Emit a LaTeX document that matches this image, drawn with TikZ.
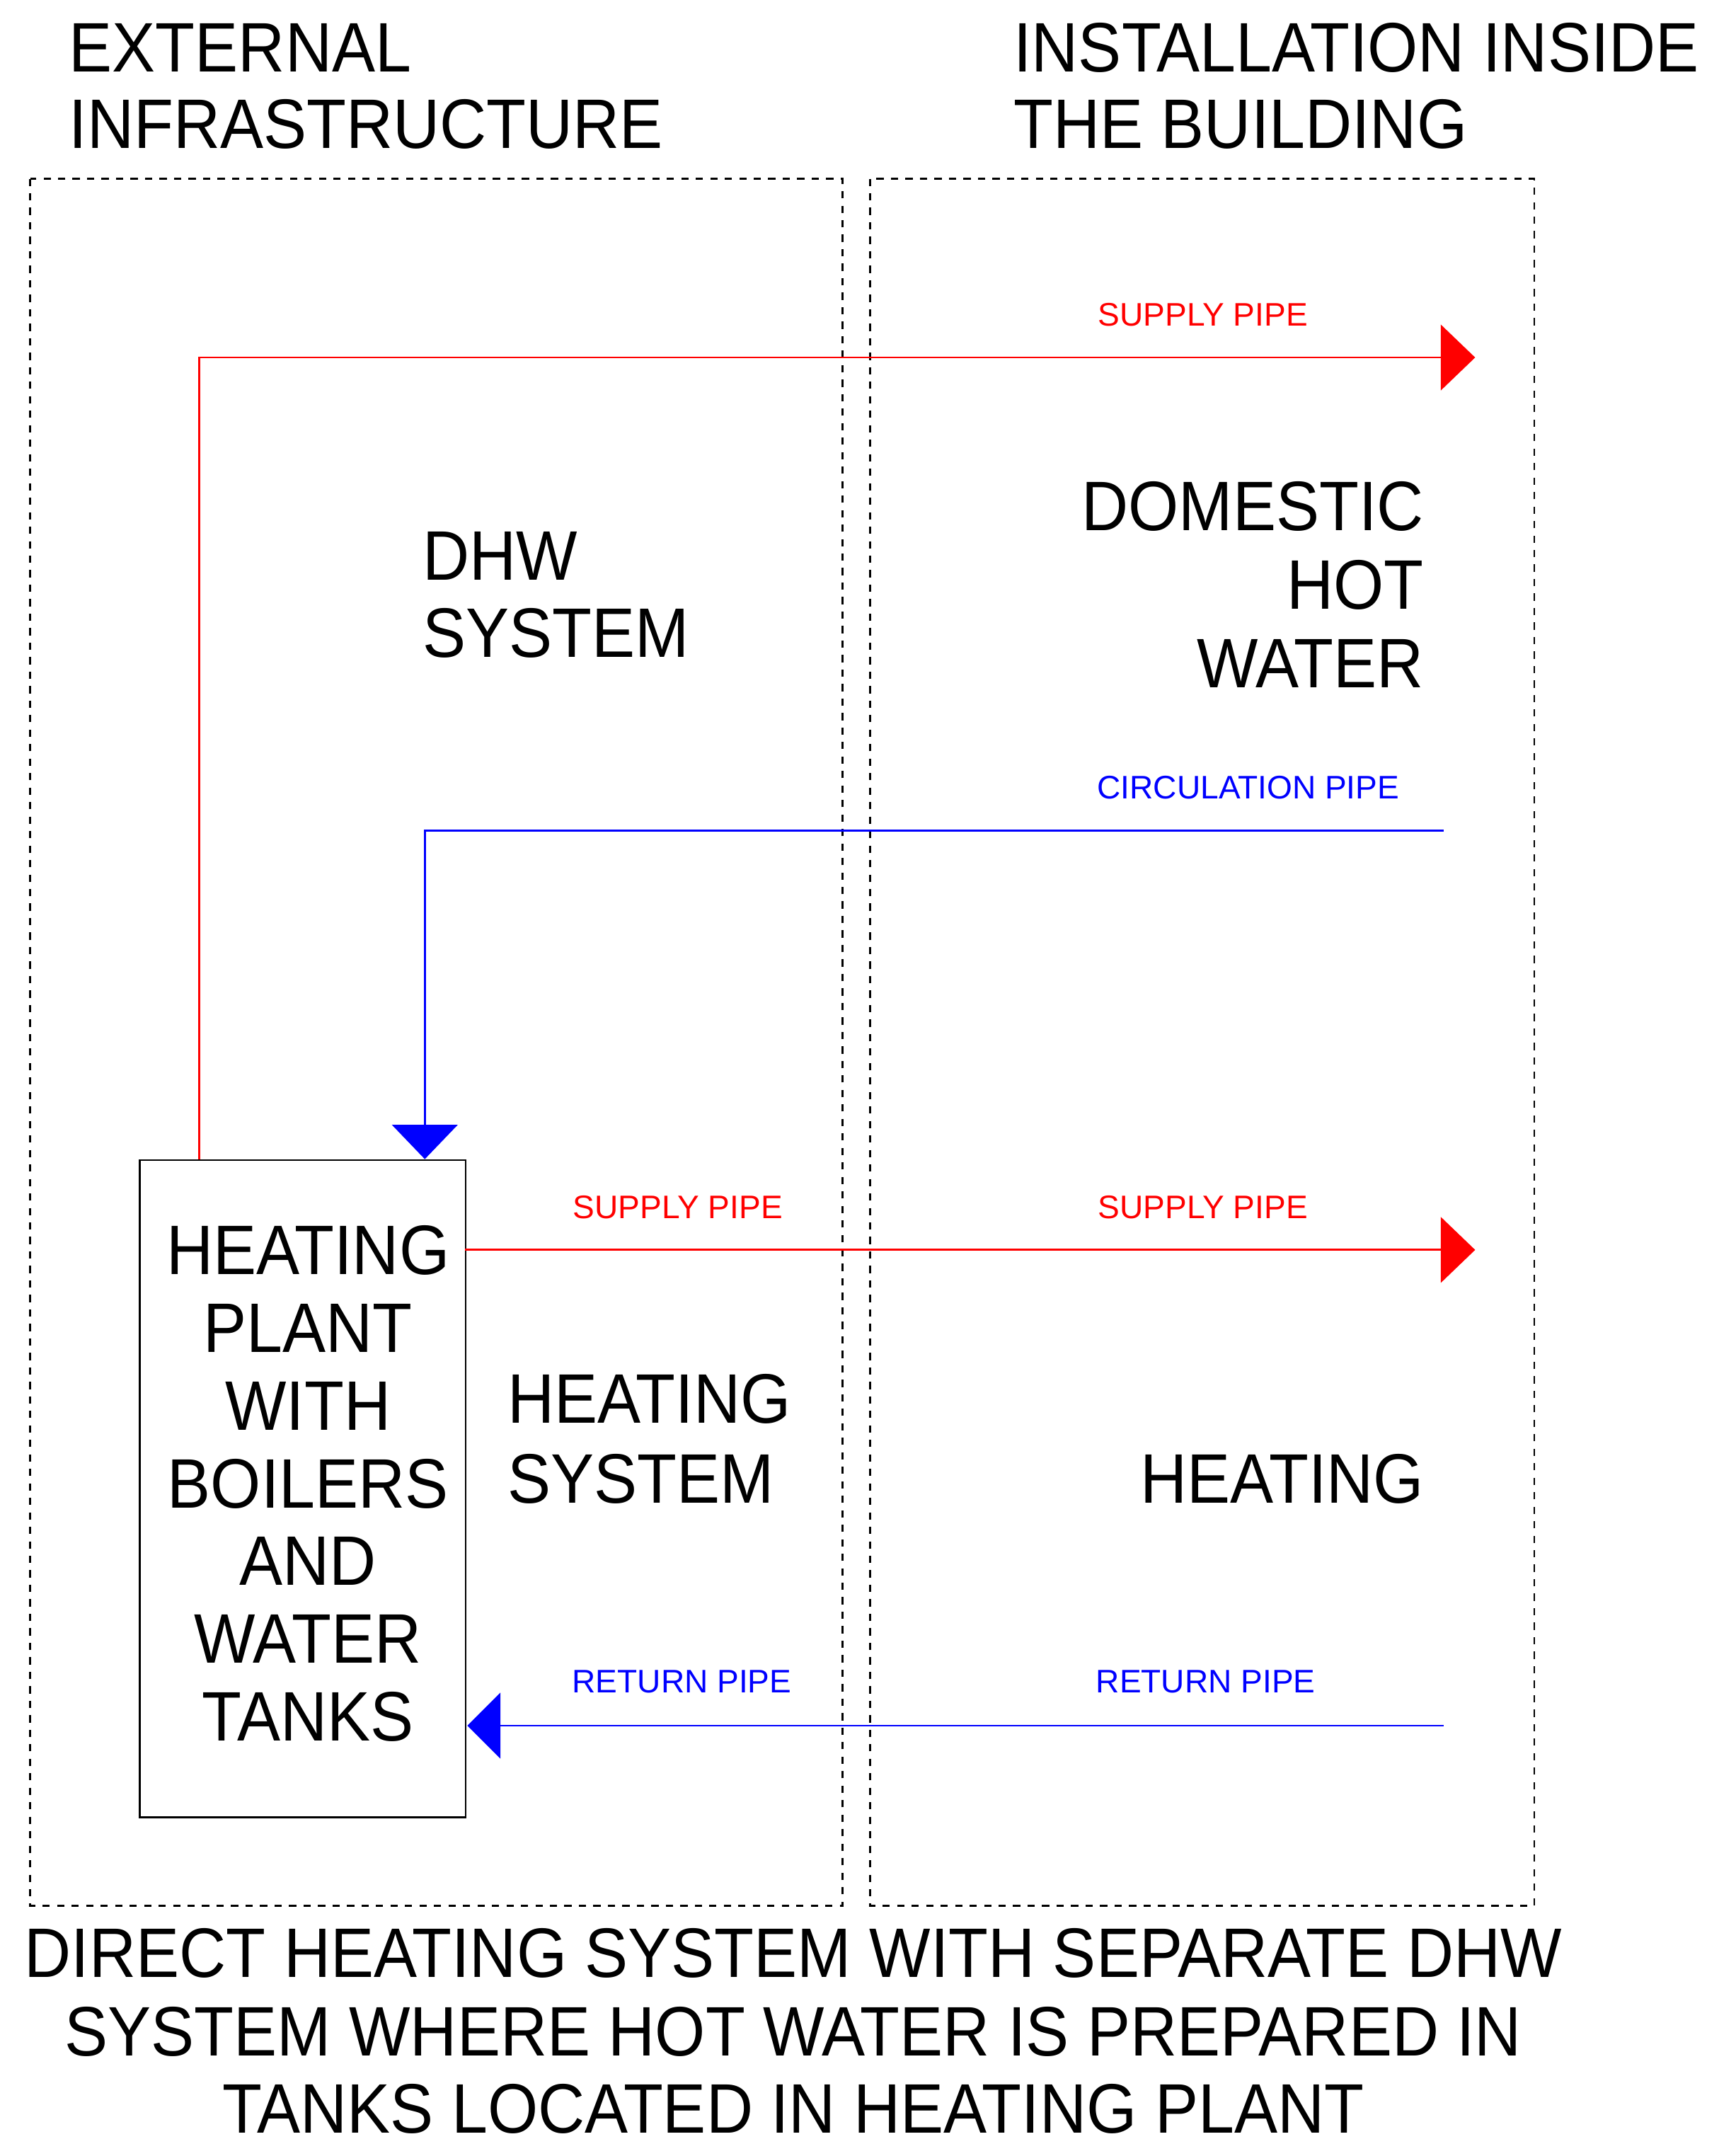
\documentclass[tikz,border=0pt]{standalone}
\usepackage{fontspec}
\setmainfont{Liberation Sans}
\newfontfamily\narrowsans{Liberation Sans}[FakeStretch=0.925]
\begin{document}
\begin{tikzpicture}[x=0.02cm,y=-0.02cm,
  big/.style={font=\narrowsans\fontsize{29}{33}\selectfont,inner sep=0pt},
  small/.style={font=\fontsize{13.5}{15}\selectfont,inner sep=0pt},
  zone/.style={draw,dashed,line width=0.8pt},
  pipe/.style={line width=0.8pt},
  rtip/.style={fill=red,draw=none},
  btip/.style={fill=blue,draw=none}]
\useasboundingbox (0,0) rectangle (1250,1568);
\node[big,anchor=base west] (t1) at (50,52) {EXTERNAL};
\node[big,anchor=base west] (t2) at (50,108) {INFRASTRUCTURE};
\node[big,anchor=base west] (t3) at (737,52) {INSTALLATION INSIDE};
\node[big,anchor=base west] (t4) at (737,108) {THE BUILDING};
\draw[zone] (22,130) rectangle (613,1386);
\draw[zone] (633,130) rectangle (1116,1386);
% heating plant
\node[draw,line width=0.8pt,minimum width=237*0.02cm,minimum height=478*0.02cm,anchor=north west,inner sep=0pt] (hp) at (101,843) {};
\foreach \t [count=\i from 0] in {HEATING,PLANT,WITH,BOILERS,AND,WATER,TANKS}
  \node[big,anchor=base] (hp\i) at (224,927+56.5*\i) {\t};
% supply top
\coordinate (s0) at (145,843);
\coordinate (s1) at (145,260);
\coordinate (s1e) at (1048,260);
\draw[pipe,red] (s0) -- (s1) -- (s1e);
\fill[rtip] (1048,236) -- (1073,260) -- (1048,284) -- cycle;
\node[small,red,anchor=base] (l1) at (875,237) {SUPPLY PIPE};
% circulation
\coordinate (c0) at (1050,604);
\coordinate (c1) at (309,604);
\coordinate (c2) at (309,818);
\draw[pipe,blue] (c0) -- (c1) -- (c2);
\fill[btip] (285,818) -- (333,818) -- (309,843) -- cycle;
\node[small,blue,anchor=base] (l2) at (908,581) {CIRCULATION PIPE};
% supply heating
\coordinate (s2) at (338,909);
\coordinate (s2e) at (1048,909);
\draw[pipe,red] (s2) -- (s2e);
\fill[rtip] (1048,885) -- (1073,909) -- (1048,933) -- cycle;
\node[small,red,anchor=base] (l3) at (493,886) {SUPPLY PIPE};
\node[small,red,anchor=base] (l4) at (875,886) {SUPPLY PIPE};
% return
\coordinate (r0) at (1050,1255);
\coordinate (r1) at (364,1255);
\draw[pipe,blue] (r0) -- (r1);
\fill[btip] (364,1231) -- (340,1255) -- (364,1279) -- cycle;
\node[small,blue,anchor=base] (l5) at (496,1231) {RETURN PIPE};
\node[small,blue,anchor=base] (l6) at (877,1231) {RETURN PIPE};
% labels
\node[big,anchor=base west] (d1) at (307,422) {DHW};
\node[big,anchor=base west] (d2) at (307,478) {SYSTEM};
\node[big,anchor=base east] (w1) at (1036,386) {DOMESTIC};
\node[big,anchor=base east] (w2) at (1036,443) {HOT};
\node[big,anchor=base east] (w3) at (1036,500) {WATER};
\node[big,anchor=base west] (h1) at (369,1035) {HEATING};
\node[big,anchor=base west] (h2) at (369,1093) {SYSTEM};
\node[big,anchor=base east] (h3) at (1036,1093) {HEATING};
\node[big,anchor=base] (c1t) at (577,1438) {DIRECT HEATING SYSTEM WITH SEPARATE DHW};
\node[big,anchor=base] (c2t) at (577,1495) {SYSTEM WHERE HOT WATER IS PREPARED IN};
\node[big,anchor=base] (c3t) at (577,1551) {TANKS LOCATED IN HEATING PLANT};
\end{tikzpicture}
\end{document}
